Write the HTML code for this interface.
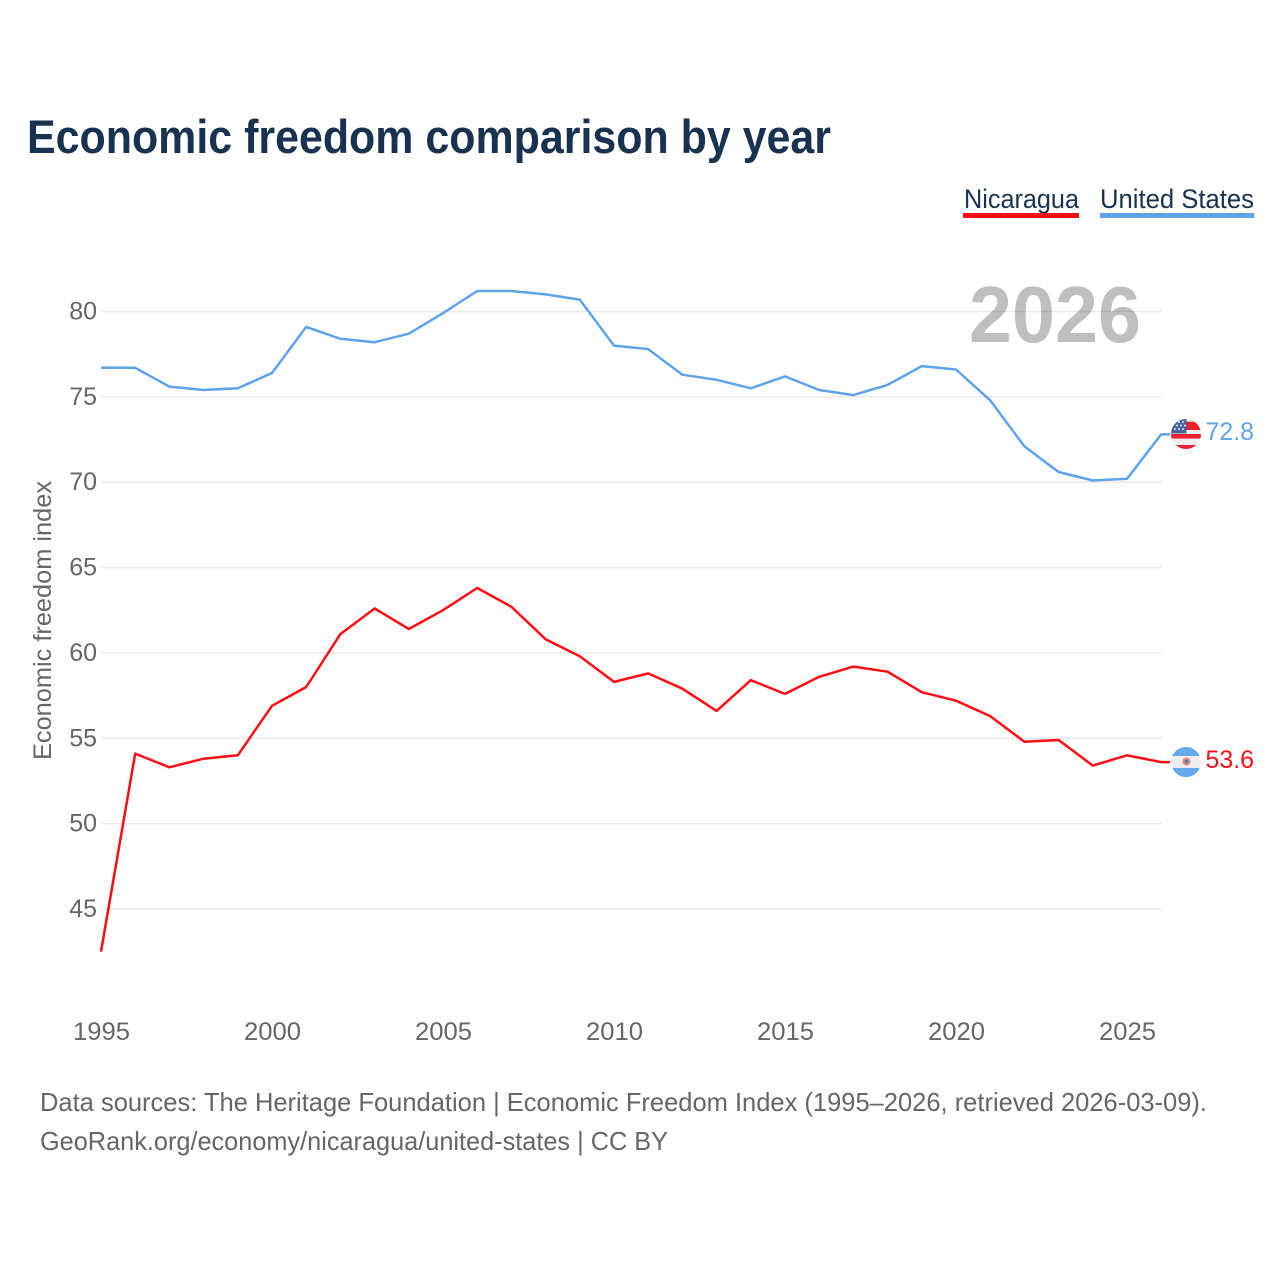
<!DOCTYPE html>
<html lang="en">
<head>
<meta charset="utf-8">
<title>Economic freedom comparison by year</title>
<style>
html,body{margin:0;padding:0;background:#fff;}
svg{display:block;font-family:"Liberation Sans",sans-serif;}
</style>
</head>
<body>
<svg id="chart" xmlns="http://www.w3.org/2000/svg" width="1280" height="1280" viewBox="0 0 1280 1280">
  <defs>
    <clipPath id="flag-clip-us"><circle cx="1186" cy="434" r="15"/></clipPath>
    <clipPath id="flag-clip-ni"><circle cx="1186" cy="762" r="15"/></clipPath>
  </defs>
  <rect x="0" y="0" width="1280" height="1280" fill="#fff"/>
  <text x="27" y="153" font-size="47" font-weight="700" fill="#18324f" textLength="804" lengthAdjust="spacingAndGlyphs">Economic freedom comparison by year</text>

  <g>
    <text x="964" y="208" font-size="27" fill="#18324f" textLength="115" lengthAdjust="spacingAndGlyphs">Nicaragua</text>
    <rect x="963" y="213" width="116" height="5" fill="#ff0d17"/>
  </g>
  <g>
    <text x="1100" y="208" font-size="27" fill="#18324f" textLength="154" lengthAdjust="spacingAndGlyphs">United States</text>
    <rect x="1100" y="213" width="154" height="5" fill="#5fa3ea"/>
  </g>

  <text x="969" y="342" font-size="80" font-weight="700" fill="#bfbfbf" textLength="172" lengthAdjust="spacingAndGlyphs">2026</text>

  <g id="grid"></g>
  <g id="y-ticks"></g>
  <g id="x-ticks"></g>
  <text transform="translate(51,760) rotate(-90)" font-size="25" fill="#666" textLength="279" lengthAdjust="spacingAndGlyphs">Economic freedom index</text>
  <g id="series"></g>

  <g id="flag-us">
    <g clip-path="url(#flag-clip-us)">
      <rect x="1171" y="419" width="30" height="30" fill="#efefef"/>
      <rect x="1171" y="421.7" width="30" height="8.3" fill="#f0212e"/>
      <rect x="1171" y="434" width="30" height="4.6" fill="#f0212e"/>
      <rect x="1171" y="445" width="30" height="4" fill="#f0212e"/>
      <rect x="1171" y="419" width="15.5" height="14.5" fill="#46689c"/>
      <circle cx="1175" cy="429" r="1" fill="#dfe6f0"/>
      <circle cx="1179" cy="429" r="1" fill="#dfe6f0"/>
      <circle cx="1183" cy="429" r="1" fill="#dfe6f0"/>
      <circle cx="1177" cy="425.5" r="1" fill="#dfe6f0"/>
      <circle cx="1181" cy="425.5" r="1" fill="#dfe6f0"/>
      <circle cx="1185" cy="425.5" r="1" fill="#dfe6f0"/>
      <circle cx="1183" cy="422" r="1" fill="#dfe6f0"/>
      <circle cx="1179" cy="422" r="1" fill="#dfe6f0"/>
    </g>
  </g>
  <g id="flag-ni">
    <g clip-path="url(#flag-clip-ni)">
      <rect x="1171" y="747" width="30" height="30" fill="#eeeeee"/>
      <rect x="1171" y="747" width="30" height="9" fill="#64a9ec"/>
      <rect x="1171" y="768" width="30" height="9" fill="#64a9ec"/>
      <circle cx="1186.5" cy="761.5" r="4" fill="#e98a80"/>
      <circle cx="1186.5" cy="761.5" r="2" fill="#5a7fa8"/>
    </g>
  </g>

  <text x="1205.5" y="440" font-size="25" fill="#5fa3ea" textLength="48.5" lengthAdjust="spacingAndGlyphs">72.8</text>
  <text x="1205.5" y="768" font-size="25" fill="#ff0d17" textLength="48.5" lengthAdjust="spacingAndGlyphs">53.6</text>

  <text x="40" y="1111" font-size="26" fill="#666" textLength="1167" lengthAdjust="spacingAndGlyphs">Data sources: The Heritage Foundation | Economic Freedom Index (1995–2026, retrieved 2026-03-09).</text>
  <text x="40" y="1150" font-size="26" fill="#666" textLength="628" lengthAdjust="spacingAndGlyphs">GeoRank.org/economy/nicaragua/united-states | CC BY</text>
</svg>
<script>
const years = [1995,1996,1997,1998,1999,2000,2001,2002,2003,2004,2005,2006,2007,2008,2009,2010,2011,2012,2013,2014,2015,2016,2017,2018,2019,2020,2021,2022,2023,2024,2025,2026];
const unitedStates = [76.7,76.7,75.6,75.4,75.5,76.4,79.1,78.4,78.2,78.7,79.9,81.2,81.2,81.0,80.7,78.0,77.8,76.3,76.0,75.5,76.2,75.4,75.1,75.7,76.8,76.6,74.8,72.1,70.6,70.1,70.2,72.8];
const nicaragua = [42.5,54.1,53.3,53.8,54.0,56.9,58.0,61.1,62.6,61.4,62.5,63.8,62.7,60.8,59.8,58.3,58.8,57.9,56.6,58.4,57.6,58.6,59.2,58.9,57.7,57.2,56.3,54.8,54.9,53.4,54.0,53.6];
const yTicks = [45,50,55,60,65,70,75,80];
const xTicks = [1995,2000,2005,2010,2015,2020,2025];

const NS = 'http://www.w3.org/2000/svg';
function xScale(year){ return 101 + (year - 1995) * 34.2; }
function yScale(v){ return 311.5 + (80 - v) * 17.07; }

const grid = document.getElementById('grid');
const yTickGroup = document.getElementById('y-ticks');
const xTickGroup = document.getElementById('x-ticks');
const seriesGroup = document.getElementById('series');

yTicks.forEach(function(t){
  const line = document.createElementNS(NS,'line');
  
  
  line.setAttribute('x1', 101);
  line.setAttribute('x2', 1162);
  line.setAttribute('y1', yScale(t));
  line.setAttribute('y2', yScale(t));
  line.setAttribute('stroke', 'rgba(40,40,70,0.1)');
  line.setAttribute('stroke-width', 1.5);
  grid.appendChild(line);

  const label = document.createElementNS(NS,'text');
  
  
  label.setAttribute('x', 97);
  label.setAttribute('y', yScale(t) + 8);
  label.setAttribute('text-anchor', 'end');
  label.setAttribute('font-size', 25);
  label.setAttribute('fill', '#666');
  label.textContent = t;
  yTickGroup.appendChild(label);
});

xTicks.forEach(function(t){
  const label = document.createElementNS(NS,'text');
  
  
  label.setAttribute('x', xScale(t) + 0.5);
  label.setAttribute('y', 1040);
  label.setAttribute('text-anchor', 'middle');
  label.setAttribute('font-size', 25);
  label.setAttribute('fill', '#666');
  label.setAttribute('textLength', 57);
  label.setAttribute('lengthAdjust', 'spacingAndGlyphs');
  label.textContent = t;
  xTickGroup.appendChild(label);
});

function drawSeries(values, color, name){
  const pts = values.map(function(v,i){ return xScale(years[i]).toFixed(1) + ',' + yScale(v).toFixed(1); });
  const last = values[values.length - 1];
  pts.push('1170,' + yScale(last).toFixed(1));
  const line = document.createElementNS(NS,'polyline');
  
  
  line.setAttribute('points', pts.join(' '));
  line.setAttribute('fill', 'none');
  line.setAttribute('stroke', color);
  line.setAttribute('stroke-width', 2.5);
  line.setAttribute('stroke-linejoin', 'round');
  seriesGroup.appendChild(line);
}
drawSeries(unitedStates, '#5fa3ea', 'line-united-states');
drawSeries(nicaragua, '#ff0d17', 'line-nicaragua');
</script>
</body>
</html>
